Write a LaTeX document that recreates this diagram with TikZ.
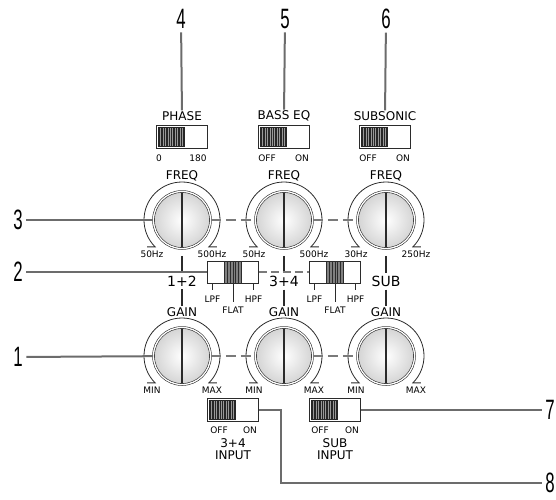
\documentclass[tikz,border=0pt]{standalone}
\usepackage{fontspec}
\setmainfont{DejaVu Sans}
\newfontfamily\calloutfont{Liberation Sans}
\usepackage{tikz}
\usetikzlibrary{positioning, calc}
\definecolor{leadgray}{HTML}{6C6C6C}
\definecolor{linkgray}{HTML}{7A7A7A}
\definecolor{inkdark}{HTML}{2B2B2B}
\newcommand{\thinnum}[1]{\scalebox{0.6}[1]{\calloutfont\fontsize{28}{28}\selectfont #1}}

\begin{document}
\begin{tikzpicture}[
  x=1pt, y=-1pt,
  font=\fontsize{12}{14}\selectfont,
  knob/.style={
    circle, minimum size=57pt, inner sep=0pt,
    draw=inkdark, line width=0.6pt, double=white, double distance=1.3pt,
    inner color=white, outer color=black!17,
    path picture={\draw[inkdark, line width=1.8pt]
      (path picture bounding box.north) -- (path picture bounding box.south);}
  },
  slider/.style={
    rectangle, draw=inkdark, line width=0.8pt, fill=white,
    minimum width=51pt, minimum height=23pt, inner sep=0pt,
    path picture={
      \fill[black!85] ([shift={(1.6pt,-1.6pt)}]path picture bounding box.north west)
        rectangle ([shift={(28.5pt,1.6pt)}]path picture bounding box.south west);
      \foreach \s in {1,...,10}
        \draw[black!40, line width=0.6pt]
          ([shift={(1.8pt+\s*2.4pt,-2.6pt)}]path picture bounding box.north west) -- ++(0pt,-17.8pt);
    }
  },
  xover/.style={
    rectangle, draw=inkdark, line width=0.8pt, fill=white,
    minimum width=51pt, minimum height=22pt, inner sep=0pt,
    path picture={
      \filldraw[fill=black!50, draw=inkdark, line width=0.6pt]
        ([xshift=-8.5pt]path picture bounding box.north)
        rectangle ([xshift=8.5pt]path picture bounding box.south);
      \foreach \s in {-5.5,-2.75,0,2.75,5.5}
        \draw[inkdark, line width=0.6pt]
          ([xshift=\s pt]path picture bounding box.north) -- ([xshift=\s pt]path picture bounding box.south);
    }
  },
  lbl/.style={inner sep=1pt},
  tiny/.style={font=\fontsize{9}{10}\selectfont, inner sep=1pt},
  setting/.style={font=\fontsize{9}{10}\selectfont, inner sep=1pt},
  tag/.style={font=\fontsize{14}{15}\selectfont, inner sep=3pt},
  callnum/.style={inner xsep=3.5pt, inner ysep=3.5pt},
  lead/.style={leadgray, line width=2pt},
  link/.style={linkgray, line width=2.4pt, dash pattern=on 10pt off 5pt},
  chan/.style={inkdark, line width=1.4pt},
  dial/.style={inkdark, line width=0.8pt}
]
  \useasboundingbox (0,0) rectangle (556,499);

  % knobs
  \node[knob] (kf1) at (182,220) {};
  \node[knob] (kf2) at (284,220) {};
  \node[knob] (kf3) at (386,220) {};
  \node[knob] (kg1) at (182,356) {};
  \node[knob] (kg2) at (284,356) {};
  \node[knob] (kg3) at (386,356) {};

  \foreach \k/\lo/\hi in {kf1/50Hz/500Hz, kf2/50Hz/500Hz, kf3/30Hz/250Hz,
                          kg1/MIN/MAX, kg2/MIN/MAX, kg3/MIN/MAX} {
    \draw[dial] ([shift={(225:38pt)},xshift=-8pt]\k.center) -- ++(8pt,0pt)
      arc[start angle=225, end angle=-45, radius=38pt] -- ++(8pt,0pt);
    \node[tiny] at ($(\k)+(-30,34)$) {\lo};
    \node[tiny] at ($(\k)+(30,34)$) {\hi};
  }

  \node[lbl] (lfreq1) at (182,176) {FREQ};
  \node[lbl] (lfreq2) at (284,176) {FREQ};
  \node[lbl] (lfreq3) at (386,176) {FREQ};
  \node[lbl] (lgain1) at (182,312) {GAIN};
  \node[lbl] (lgain2) at (284,312) {GAIN};
  \node[lbl] (lgain3) at (386,312) {GAIN};

  % top switches
  \node[slider] (sphase) at (182,137) {};
  \node[slider] (sbass)  at (284,137) {};
  \node[slider] (ssubs)  at (385,137) {};
  \node[lbl] (lphase) at (182,116) {PHASE};
  \node[lbl] (lbass)  at (284,116) {BASS EQ};
  \node[lbl] (lsubs)  at (385,116) {SUBSONIC};
  \node[setting] at (159,158) {0};
  \node[setting] at (198,158) {180};
  \node[setting] at (267,158) {OFF};
  \node[setting] at (302,158) {ON};
  \node[setting] at (368,158) {OFF};
  \node[setting] at (403,158) {ON};

  % crossover switches
  \node[xover] (sx12) at (233,272) {};
  \node[xover] (sx34) at (335,272) {};
  \foreach \s in {sx12, sx34} {
    \draw[inkdark, line width=1pt] ([xshift=-20.5pt]\s.south) -- ++(0pt,-7pt);
    \draw[inkdark, line width=1pt] (\s.south) -- ++(0pt,-19pt);
    \draw[inkdark, line width=1pt] ([xshift=20.5pt]\s.south) -- ++(0pt,-7pt);
    \node[tiny] at ($(\s.south)+(-20.5,16)$) {LPF};
    \node[tiny] at ($(\s.south)+(0,27)$) {FLAT};
    \node[tiny] at ($(\s.south)+(20.5,16)$) {HPF};
  }

  % channel tags
  \node[tag] (l12)  at (182,281) {1+2};
  \node[tag] (l34)  at (284,281) {3+4};
  \node[tag] (lsub) at (386,281) {SUB};
  \draw[chan] ([yshift=-7pt]kf1.south) -- (l12);
  \draw[chan] (l12) -- (lgain1);
  \draw[chan] ([yshift=-7pt]kf2.south) -- (l34);
  \draw[chan] (l34) -- (lgain2);
  \draw[chan] ([yshift=-7pt]kf3.south) -- (lsub);
  \draw[chan] (lsub) -- (lgain3);

  % linked controls
  \draw[link] (kf1) -- (kf2);
  \draw[link] (kf2) -- (kf3);
  \draw[link] (kg1) -- (kg2);
  \draw[link] (kg2) -- (kg3);
  \draw[link, dash pattern=on 8pt off 4pt] (sx12) -- (sx34);

  % input switches
  \node[slider] (sin34)  at (233,410) {};
  \node[slider] (sinsub) at (335,410) {};
  \node[setting] at (219,430) {OFF};
  \node[setting] at (250,430) {ON};
  \node[setting] at (320,430) {OFF};
  \node[setting] at (352,430) {ON};
  \node[lbl, align=center] at (233,449) {3+4\\[-2.5pt]INPUT};
  \node[lbl, align=center] at (335,449) {SUB\\[-2.5pt]INPUT};

  % callouts
  \node[callnum] (n1) at (18,357) {\thinnum{1}};
  \node[callnum] (n2) at (18,272) {\thinnum{2}};
  \node[callnum] (n3) at (18,220) {\thinnum{3}};
  \node[callnum] (n4) at (181,19) {\thinnum{4}};
  \node[callnum] (n5) at (285,19) {\thinnum{5}};
  \node[callnum] (n6) at (386,19) {\thinnum{6}};
  \node[callnum] (n7) at (550,410) {\thinnum{7}};
  \node[callnum] (n8) at (550,483) {\thinnum{8}};

  \draw[lead] (n1) -- (kg1);
  \draw[lead] (n2) -- (sx12);
  \draw[lead] (n3) -- (kf1);
  \draw[lead] (n4) -- (lphase);
  \draw[lead] (n5) -- (lbass);
  \draw[lead] (n6) -- (lsubs);
  \draw[lead] (sinsub) -- (n7);
  \draw[lead] (sin34.east) -- ++(22,0) |- (n8);
\end{tikzpicture}
\end{document}
